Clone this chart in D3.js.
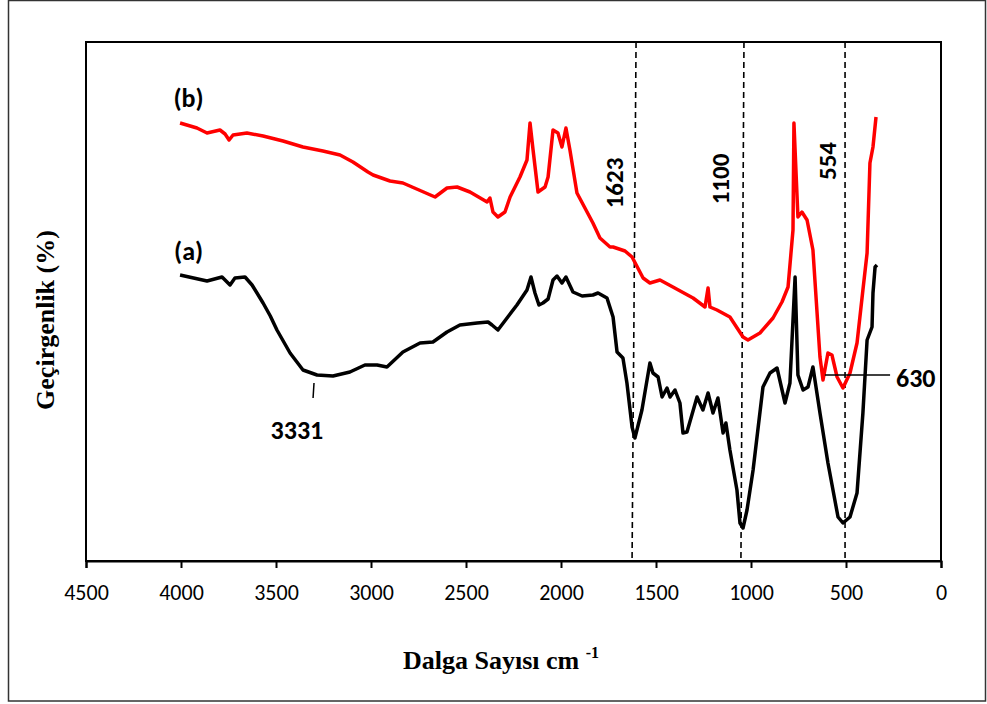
<!DOCTYPE html>
<html>
<head>
<meta charset="utf-8">
<script src="https://cdn.jsdelivr.net/npm/d3@7"></script>
<style>
  body { margin: 0; background: #fff; }
  svg { display: block; }
</style>
</head>
<body>
<svg id="svg" width="987" height="704"></svg>
<script>
// wavenumbers (cm-1) and transmittance (arbitrary %)
const wnA = [4005, 3863, 3784, 3742, 3716, 3663, 3626, 3568, 3530, 3495, 3426, 3358, 3284, 3200, 3111, 3032, 2968, 2916, 2832, 2742, 2674, 2600, 2532, 2442, 2384, 2363, 2332, 2284, 2232, 2179, 2158, 2137, 2116, 2095, 2068, 2042, 2021, 1995, 1974, 1937, 1889, 1832, 1805, 1758, 1726, 1705, 1674, 1653, 1626, 1611, 1574, 1532, 1516, 1489, 1468, 1442, 1426, 1400, 1374, 1358, 1337, 1284, 1253, 1226, 1200, 1174, 1147, 1132, 1111, 1074, 1058, 1042, 1021, 989, 937, 900, 863, 821, 795, 768, 753, 726, 700, 674, 637, 595, 542, 516, 479, 442, 411, 389, 363, 358, 347, 337]
const tA = [57.2, 56.0, 56.8, 55.2, 56.6, 56.8, 55.2, 51.6, 49.0, 46.2, 41.6, 38.2, 37.2, 37.0, 37.8, 39.2, 39.2, 38.8, 41.8, 43.6, 43.8, 45.8, 47.2, 47.6, 47.8, 47.2, 46.2, 48.6, 51.2, 54.2, 56.8, 53.6, 51.2, 51.6, 52.4, 56.2, 57.0, 55.6, 56.8, 53.8, 53.0, 53.2, 53.6, 52.6, 48.8, 41.8, 40.6, 35.6, 26.8, 24.6, 30.2, 39.6, 37.6, 36.8, 32.8, 34.6, 32.8, 34.2, 31.6, 25.6, 25.8, 32.8, 30.2, 33.6, 29.6, 32.6, 25.6, 27.6, 22.2, 14.2, 7.6, 6.6, 10.2, 18.2, 34.8, 37.6, 38.6, 31.6, 35.6, 56.8, 37.2, 34.2, 34.8, 38.8, 29.6, 19.6, 8.8, 7.6, 8.8, 13.6, 29.6, 44.2, 46.8, 53.6, 58.8, 59.2]

const wnB = [4005, 3916, 3863, 3795, 3768, 3747, 3726, 3653, 3568, 3463, 3358, 3253, 3163, 3095, 3016, 2989, 2900, 2832, 2663, 2600, 2547, 2479, 2389, 2374, 2358, 2332, 2295, 2268, 2216, 2179, 2163, 2147, 2121, 2084, 2068, 2042, 2016, 1995, 1974, 1953, 1916, 1832, 1795, 1742, 1726, 1663, 1626, 1568, 1532, 1479, 1411, 1305, 1242, 1226, 1216, 1179, 1111, 1042, 1016, 953, 884, 837, 805, 779, 774, 753, 732, 705, 674, 637, 621, 595, 574, 547, 516, 479, 442, 411, 389, 374, 358, 342]
const tB = [87.6, 86.6, 85.6, 86.2, 85.4, 84.2, 85.2, 85.6, 85.0, 84.0, 82.8, 82.0, 81.2, 79.8, 77.8, 77.2, 76.0, 75.6, 72.8, 74.6, 74.8, 73.8, 71.8, 72.6, 69.8, 68.8, 69.8, 72.8, 76.8, 80.2, 87.6, 82.2, 73.8, 74.8, 76.8, 86.2, 85.6, 82.8, 86.6, 82.2, 73.6, 67.6, 64.6, 62.8, 62.8, 62.0, 60.8, 56.6, 55.6, 56.2, 54.8, 52.6, 50.8, 54.6, 50.8, 50.2, 48.8, 44.8, 44.2, 45.6, 48.6, 51.8, 54.8, 66.2, 87.6, 68.8, 69.8, 68.2, 62.2, 40.8, 36.2, 41.6, 41.2, 36.8, 34.6, 37.6, 43.6, 54.2, 61.6, 79.6, 82.8, 88.8]

const xTicks = [4500, 4000, 3500, 3000, 2500, 2000, 1500, 1000, 500, 0]
// dashed marker lines: wavenumber at top and at bottom, label
const markTop = [1605, 1037, 505]
const markBottom = [1626, 1053, 505]
const markLabels = ['1623', '1100', '554']

const svg = d3.select('#svg')
const plotL = 86, plotR = 941, plotT = 42, plotB = 561

const x = d3.scaleLinear().domain([4500, 0]).range([plotL, plotR])
const y = d3.scaleLinear().domain([0, 103.8]).range([plotB, plotT])

// outer frame
svg.append('rect')
    .attr('x', 8.5).attr('y', 0.5)
    .attr('width', 977).attr('height', 700.5)
    .attr('fill', 'none').attr('stroke', '#333').attr('stroke-width', 1.5)

// plot frame
svg.append('rect')
    .attr('x', plotL).attr('y', plotT)
    .attr('width', plotR - plotL).attr('height', plotB - plotT)
    .attr('fill', 'none').attr('stroke', '#000').attr('stroke-width', 2)

const lab = 'Calibri, Carlito, Lato, sans-serif'

const xAxis = svg.append('g')
    .attr('transform', `translate(0,${plotB})`)
    .call(d3.axisBottom(x).tickValues(xTicks).tickSize(7).tickPadding(16).tickFormat(d3.format('d')))
xAxis.select('.domain').attr('stroke-width', 2)
xAxis.selectAll('.tick line').attr('stroke-width', 2)
xAxis.selectAll('.tick text')
    .attr('font-family', lab)
    .attr('font-size', 22).attr('fill', '#000')

// dashed lines
svg.selectAll('line.mark').data(markTop)
    .enter().append('line')
    .attr('class', 'mark')
    .attr('x1', d => x(d)).attr('y1', plotT)
    .attr('x2', (d, i) => x(markBottom[i])).attr('y2', plotB)
    .attr('stroke', '#000').attr('stroke-width', 1.6)
    .attr('stroke-dasharray', '6,4')

const line = d3.line().x(d => x(d[0])).y(d => y(d[1]))

svg.append('path')
    .datum(wnB.map((w, i) => [w, tB[i]]))
    .attr('d', line)
    .attr('fill', 'none').attr('stroke', '#ff0000')
    .attr('stroke-width', 3.5).attr('stroke-linejoin', 'round')

svg.append('path')
    .datum(wnA.map((w, i) => [w, tA[i]]))
    .attr('d', line)
    .attr('fill', 'none').attr('stroke', '#000')
    .attr('stroke-width', 3.5).attr('stroke-linejoin', 'round')

// rotated peak labels
const labelPos = [[1720, 75.6], [1160, 76.4], [600, 80]]
svg.selectAll('text.mark').data(markLabels)
    .enter().append('text')
    .attr('class', 'mark')
    .attr('transform', (d, i) => `translate(${x(labelPos[i][0])},${y(labelPos[i][1])}) rotate(-90)`)
    .attr('text-anchor', 'middle').attr('dominant-baseline', 'central')
    .attr('font-family', lab).attr('font-weight', 'bold').attr('font-size', 25)
    .text(d => d)

// series labels
svg.append('text')
    .attr('x', x(3960)).attr('y', y(92.6))
    .attr('text-anchor', 'middle').attr('dominant-baseline', 'central')
    .attr('font-family', lab).attr('font-weight', 'bold').attr('font-size', 26)
    .text('(b)')
svg.append('text')
    .attr('x', x(3960)).attr('y', y(62))
    .attr('text-anchor', 'middle').attr('dominant-baseline', 'central')
    .attr('font-family', lab).attr('font-weight', 'bold').attr('font-size', 26)
    .text('(a)')

// 3331 annotation
svg.append('line')
    .attr('x1', x(3300)).attr('y1', y(35.6))
    .attr('x2', x(3305)).attr('y2', y(32.6))
    .attr('stroke', '#000').attr('stroke-width', 1.5)
svg.append('text')
    .attr('x', x(3390)).attr('y', y(26.2))
    .attr('text-anchor', 'middle').attr('dominant-baseline', 'central')
    .attr('font-family', lab).attr('font-weight', 'bold').attr('font-size', 26)
    .text('3331')

// 630 annotation
svg.append('line')
    .attr('x1', x(611)).attr('y1', y(37.2))
    .attr('x2', x(268)).attr('y2', y(37.2))
    .attr('stroke', '#000').attr('stroke-width', 1.5)
svg.append('text')
    .attr('x', x(237)).attr('y', y(36.6))
    .attr('dominant-baseline', 'central')
    .attr('font-family', lab).attr('font-weight', 'bold').attr('font-size', 26)
    .text('630')

// axis titles
svg.append('text')
    .attr('transform', 'translate(45,320) rotate(-90)')
    .attr('text-anchor', 'middle').attr('dominant-baseline', 'central')
    .attr('font-family', '"Liberation Serif", "Times New Roman", serif')
    .attr('font-weight', 'bold').attr('font-size', 26)
    .text('Geçirgenlik (%)')

const xt = svg.append('text')
    .attr('x', 501).attr('y', 669)
    .attr('text-anchor', 'middle')
    .attr('font-family', '"Liberation Serif", "Times New Roman", serif')
    .attr('font-weight', 'bold').attr('font-size', 26)
xt.append('tspan').text('Dalga Sayısı cm ')
xt.append('tspan').attr('font-size', 16).attr('dy', -11).text('-1')
</script>
</body>
</html>
